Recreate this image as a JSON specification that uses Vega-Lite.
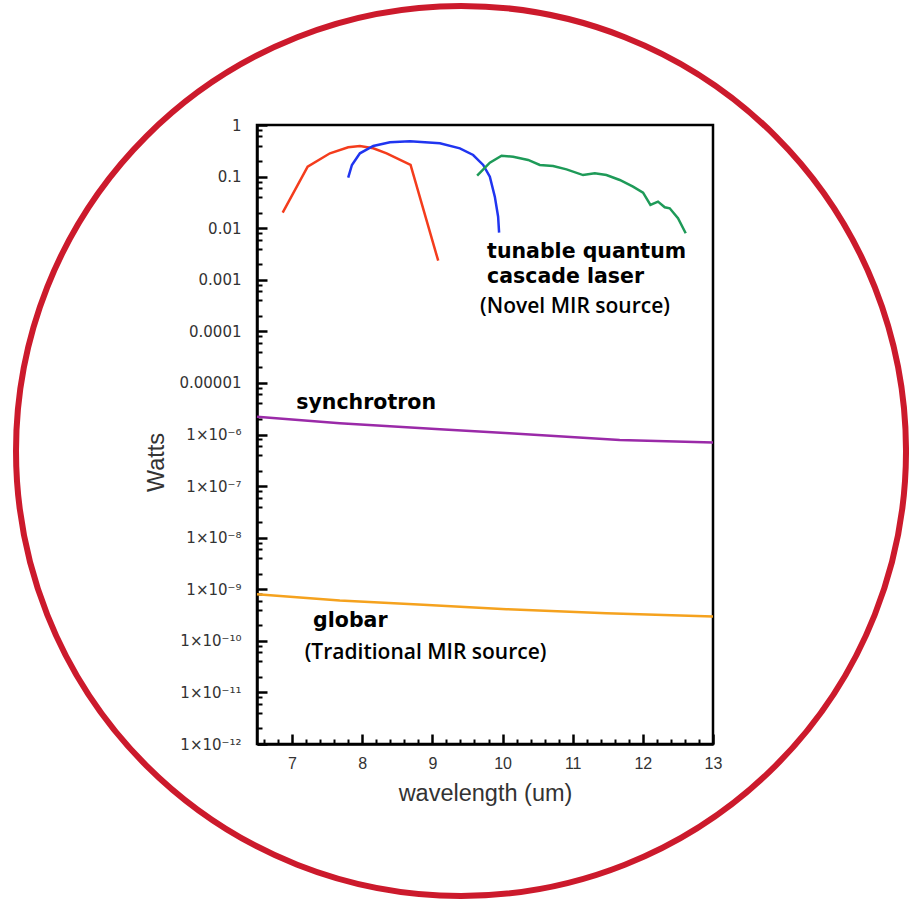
{
  "$schema": "https://vega.github.io/schema/vega-lite/v6.json",
  "autosize": {"type": "none"},
  "padding": {"left": 257, "top": 125, "right": 196, "bottom": 155},
  "width": 456,
  "height": 619,
  "background": "white",
  "config": {
    "view": {"stroke": "black", "strokeWidth": 2.5},
    "axis": {"grid": false, "zindex": 2, "domainColor": "black", "domainWidth": 2.5, "ticks": true, "tickColor": "black", "tickWidth": 2.5, "tickOpacity": 1, "labelFont": "Liberation Sans", "labelFontSize": 16, "labelColor": "#333333", "titleFont": "Liberation Sans", "titleFontSize": 23.5, "titleFontWeight": "normal", "titleColor": "#333333"}
  },
  "datasets": {
    "ring": [{"wavelength": 9.408, "watts": 4.8e-7}],
    "curves": [
      {"series": "qcl1", "wavelength": 6.866, "watts": 0.0200},
      {"series": "qcl1", "wavelength": 7.222, "watts": 0.1556},
      {"series": "qcl1", "wavelength": 7.540, "watts": 0.283},
      {"series": "qcl1", "wavelength": 7.800, "watts": 0.370},
      {"series": "qcl1", "wavelength": 7.967, "watts": 0.392},
      {"series": "qcl1", "wavelength": 8.157, "watts": 0.353},
      {"series": "qcl1", "wavelength": 8.348, "watts": 0.283},
      {"series": "qcl1", "wavelength": 8.689, "watts": 0.168},
      {"series": "qcl1", "wavelength": 9.083, "watts": 0.00234},
      {"series": "qcl2", "wavelength": 7.800, "watts": 0.0953},
      {"series": "qcl2", "wavelength": 7.853, "watts": 0.168},
      {"series": "qcl2", "wavelength": 7.967, "watts": 0.283},
      {"series": "qcl2", "wavelength": 8.157, "watts": 0.392},
      {"series": "qcl2", "wavelength": 8.395, "watts": 0.462},
      {"series": "qcl2", "wavelength": 8.680, "watts": 0.483},
      {"series": "qcl2", "wavelength": 9.107, "watts": 0.442},
      {"series": "qcl2", "wavelength": 9.392, "watts": 0.353},
      {"series": "qcl2", "wavelength": 9.581, "watts": 0.262},
      {"series": "qcl2", "wavelength": 9.724, "watts": 0.168},
      {"series": "qcl2", "wavelength": 9.819, "watts": 0.0995},
      {"series": "qcl2", "wavelength": 9.890, "watts": 0.0408},
      {"series": "qcl2", "wavelength": 9.937, "watts": 0.0167},
      {"series": "qcl2", "wavelength": 9.951, "watts": 0.00818},
      {"series": "qcl3", "wavelength": 9.638, "watts": 0.104},
      {"series": "qcl3", "wavelength": 9.819, "watts": 0.186},
      {"series": "qcl3", "wavelength": 9.986, "watts": 0.254},
      {"series": "qcl3", "wavelength": 10.151, "watts": 0.243},
      {"series": "qcl3", "wavelength": 10.365, "watts": 0.210},
      {"series": "qcl3", "wavelength": 10.531, "watts": 0.168},
      {"series": "qcl3", "wavelength": 10.721, "watts": 0.160},
      {"series": "qcl3", "wavelength": 10.912, "watts": 0.138},
      {"series": "qcl3", "wavelength": 11.148, "watts": 0.107},
      {"series": "qcl3", "wavelength": 11.315, "watts": 0.116},
      {"series": "qcl3", "wavelength": 11.481, "watts": 0.107},
      {"series": "qcl3", "wavelength": 11.671, "watts": 0.0859},
      {"series": "qcl3", "wavelength": 11.860, "watts": 0.0638},
      {"series": "qcl3", "wavelength": 12.003, "watts": 0.0488},
      {"series": "qcl3", "wavelength": 12.108, "watts": 0.0282},
      {"series": "qcl3", "wavelength": 12.216, "watts": 0.0327},
      {"series": "qcl3", "wavelength": 12.312, "watts": 0.0254},
      {"series": "qcl3", "wavelength": 12.383, "watts": 0.0243},
      {"series": "qcl3", "wavelength": 12.501, "watts": 0.0156},
      {"series": "qcl3", "wavelength": 12.611, "watts": 0.00796},
      {"series": "synchrotron", "wavelength": 6.5, "watts": 2.22e-6},
      {"series": "synchrotron", "wavelength": 7.68, "watts": 1.66e-6},
      {"series": "synchrotron", "wavelength": 9.107, "watts": 1.27e-6},
      {"series": "synchrotron", "wavelength": 10.10, "watts": 1.06e-6},
      {"series": "synchrotron", "wavelength": 11.67, "watts": 7.85e-7},
      {"series": "synchrotron", "wavelength": 13.0, "watts": 7.0e-7},
      {"series": "globar", "wavelength": 6.5, "watts": 8.04e-10},
      {"series": "globar", "wavelength": 7.68, "watts": 6.04e-10},
      {"series": "globar", "wavelength": 8.869, "watts": 4.99e-10},
      {"series": "globar", "wavelength": 10.057, "watts": 4.11e-10},
      {"series": "globar", "wavelength": 11.481, "watts": 3.44e-10},
      {"series": "globar", "wavelength": 13.0, "watts": 2.96e-10}
    ],
    "boldLabels": [
      {"label": "tunable quantum", "wavelength": 9.78, "watts": 0.00347},
      {"label": "cascade laser", "wavelength": 9.78, "watts": 0.00113},
      {"label": "synchrotron", "wavelength": 7.06, "watts": 4.0e-6},
      {"label": "globar", "wavelength": 7.30, "watts": 2.4e-10}
    ],
    "noteLabels": [
      {"label": "(Novel MIR source)", "wavelength": 9.68, "watts": 3.0e-4},
      {"label": "(Traditional MIR source)", "wavelength": 7.18, "watts": 5.8e-11}
    ]
  },
  "resolve": {"axis": {"x": "independent", "y": "independent"}},
  "layer": [
    {
      "data": {"name": "ring"},
      "mark": {"type": "point", "shape": "circle", "filled": false, "fillOpacity": 0, "size": 792100, "stroke": "#cc1a2c", "strokeWidth": 6, "opacity": 1},
      "encoding": {
        "x": {
          "field": "wavelength", "type": "quantitative",
          "scale": {"domain": [6.5, 13], "nice": false, "zero": false},
          "axis": {
            "orient": "bottom",
            "title": "wavelength (um)",
            "values": [7, 8, 9, 10, 11, 12, 13],
            "format": "d",
            "tickSize": -10,
            "labelPadding": 21,
            "labelFlush": false,
            "labelOverlap": false,
            "titleX": 228,
            "titleY": 49,
            "titleBaseline": "middle"
          }
        },
        "y": {
          "field": "watts", "type": "quantitative",
          "scale": {"type": "log", "domain": [1e-12, 1], "nice": false},
          "axis": {
            "orient": "left",
            "title": "Watts",
            "values": [1e-12, 1e-11, 1e-10, 1e-9, 1e-8, 1e-7, 1e-6, 1e-5, 1e-4, 1e-3, 1e-2, 1e-1, 1],
            "labelExpr": "round(log(datum.value)/LN10) == 0 ? '1' : round(log(datum.value)/LN10) == -1 ? '0.1' : round(log(datum.value)/LN10) == -2 ? '0.01' : round(log(datum.value)/LN10) == -3 ? '0.001' : round(log(datum.value)/LN10) == -4 ? '0.0001' : round(log(datum.value)/LN10) == -5 ? '0.00001' : round(log(datum.value)/LN10) == -6 ? '1×10⁻⁶' : round(log(datum.value)/LN10) == -7 ? '1×10⁻⁷' : round(log(datum.value)/LN10) == -8 ? '1×10⁻⁸' : round(log(datum.value)/LN10) == -9 ? '1×10⁻⁹' : round(log(datum.value)/LN10) == -10 ? '1×10⁻¹⁰' : round(log(datum.value)/LN10) == -11 ? '1×10⁻¹¹' : '1×10⁻¹²'",
            "tickSize": -10,
            "labelFont": "DejaVu Sans",
            "labelFontSize": 15,
            "labelPadding": 26,
            "labelFlush": false,
            "labelOverlap": false,
            "titleX": -101,
            "titleY": 337,
            "titleAngle": -90,
            "titleAlign": "center",
            "titleBaseline": "middle"
          }
        }
      }
    },
    {
      "data": {"name": "curves"},
      "mark": {"type": "line", "strokeWidth": 2.5},
      "encoding": {
        "x": {
          "field": "wavelength", "type": "quantitative",
          "axis": {
            "orient": "bottom",
            "title": null,
            "values": [6.6, 6.8, 7.2, 7.4, 7.6, 7.8, 8.2, 8.4, 8.6, 8.8, 9.2, 9.4, 9.6, 9.8, 10.2, 10.4, 10.6, 10.8, 11.2, 11.4, 11.6, 11.8, 12.2, 12.4, 12.6, 12.8],
            "labels": false,
            "domain": false,
            "tickSize": -5,
            "tickWidth": 2
          }
        },
        "y": {
          "field": "watts", "type": "quantitative",
          "axis": {
            "orient": "left",
            "title": null,
            "values": [2e-12, 4e-12, 6e-12, 8e-12, 2e-11, 4e-11, 6e-11, 8e-11, 2e-10, 4e-10, 6e-10, 8e-10, 2e-9, 4e-9, 6e-9, 8e-9, 2e-8, 4e-8, 6e-8, 8e-8, 2e-7, 4e-7, 6e-7, 8e-7, 2e-6, 4e-6, 6e-6, 8e-6, 2e-5, 4e-5, 6e-5, 8e-5, 2e-4, 4e-4, 6e-4, 8e-4, 2e-3, 4e-3, 6e-3, 8e-3, 2e-2, 4e-2, 6e-2, 8e-2, 2e-1, 4e-1, 6e-1, 8e-1],
            "labels": false,
            "domain": false,
            "tickSize": -5,
            "tickWidth": 2
          }
        },
        "color": {
          "field": "series", "type": "nominal", "legend": null,
          "scale": {"domain": ["qcl1", "qcl2", "qcl3", "synchrotron", "globar"], "range": ["#f43c1c", "#2035f0", "#1e9a58", "#9a2aa8", "#f5a21e"]}
        }
      }
    },
    {
      "data": {"name": "boldLabels"},
      "mark": {"type": "text", "align": "left", "baseline": "middle", "font": "DejaVu Sans", "fontSize": 20.5, "fontWeight": "bold", "color": "black"},
      "encoding": {
        "x": {"field": "wavelength", "type": "quantitative", "axis": null},
        "y": {"field": "watts", "type": "quantitative", "axis": null},
        "text": {"field": "label"}
      }
    },
    {
      "data": {"name": "noteLabels"},
      "mark": {"type": "text", "align": "left", "baseline": "middle", "font": "Open Sans", "fontSize": 21, "fontWeight": 600, "color": "black"},
      "encoding": {
        "x": {"field": "wavelength", "type": "quantitative", "axis": null},
        "y": {"field": "watts", "type": "quantitative", "axis": null},
        "text": {"field": "label"}
      }
    }
  ]
}
